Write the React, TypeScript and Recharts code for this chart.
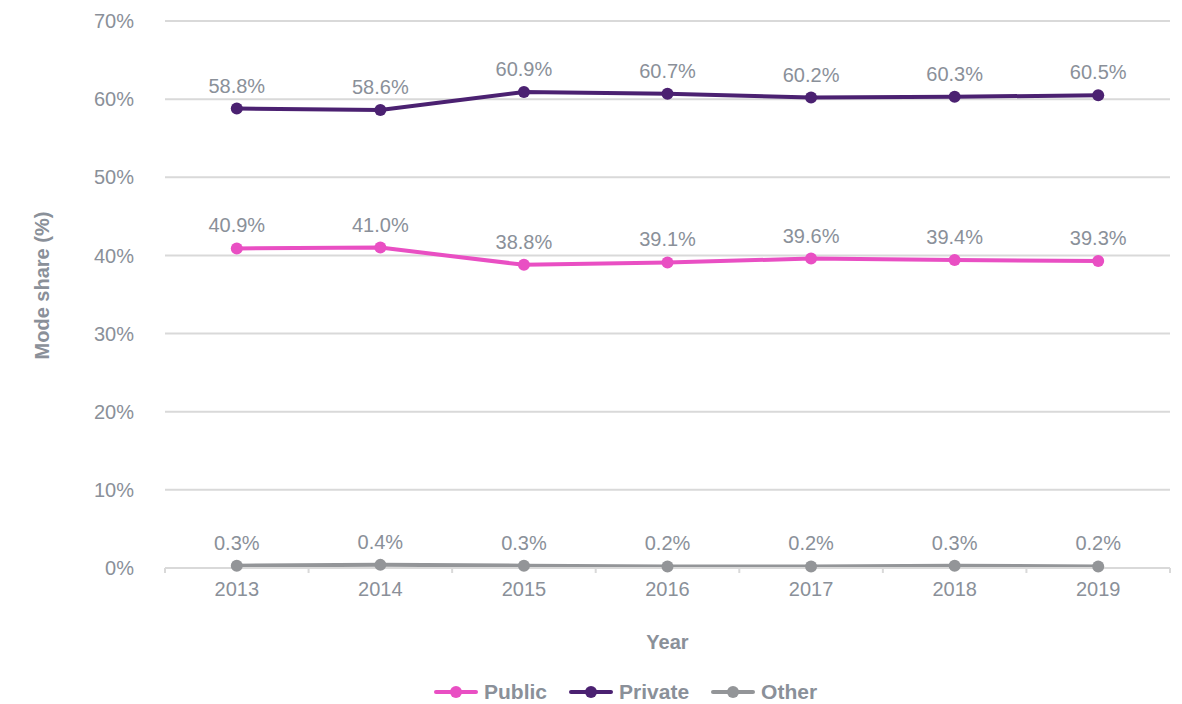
import { CartesianGrid, LabelList, Legend, Line, LineChart, XAxis, YAxis } from "recharts";

const years = ["2013", "2014", "2015", "2016", "2017", "2018", "2019"];
const publicShare = [40.9, 41.0, 38.8, 39.1, 39.6, 39.4, 39.3];
const privateShare = [58.8, 58.6, 60.9, 60.7, 60.2, 60.3, 60.5];
const otherShare = [0.3, 0.4, 0.3, 0.2, 0.2, 0.3, 0.2];
const yTicks = [0, 10, 20, 30, 40, 50, 60, 70];

const series = [
  { key: "public", name: "Public", color: "#e94fc3" },
  { key: "private", name: "Private", color: "#4b2171" },
  { key: "other", name: "Other", color: "#939598" }
];

const data = years.map((year, i) => ({
  year,
  public: publicShare[i],
  private: privateShare[i],
  other: otherShare[i]
}));

const TEXT = "#8a9099";
const FONT = "'Liberation Sans', Arial, sans-serif";

function YearTick(props: any) {
  const { x, y, payload, index } = props;
  const half = payload.offset || 0;
  const axisY = y - 14;
  return (
    <g>
      <line x1={x - half} x2={x - half} y1={axisY} y2={axisY + 5} stroke="#d9d9d9" strokeWidth={2} />
      {index === years.length - 1 && (
        <line x1={x + half} x2={x + half} y1={axisY} y2={axisY + 5} stroke="#d9d9d9" strokeWidth={2} />
      )}
      <text x={x} y={y} dy="0.71em" textAnchor="middle" fill={TEXT} fontSize={20} fontFamily={FONT}>
        {payload.value}
      </text>
    </g>
  );
}

function LegendContent() {
  return (
    <div style={{ display: "flex", alignItems: "center", gap: 22, fontFamily: FONT }}>
      {series.map((s) => (
        <div key={s.key} style={{ display: "flex", alignItems: "center", gap: 6 }}>
          <svg width={44} height={14}>
            <line x1={2} x2={42} y1={7} y2={7} stroke={s.color} strokeWidth={4} strokeLinecap="round" />
            <circle cx={22} cy={7} r={6} fill={s.color} />
          </svg>
          <span style={{ color: TEXT, fontSize: 21, fontWeight: 700 }}>{s.name}</span>
        </div>
      ))}
    </div>
  );
}

export default function App() {
  return (
    <div style={{ position: "absolute", left: 0, top: 0, width: 1182, height: 704, background: "#fff" }}>
      <LineChart width={1182} height={704} data={data} margin={{ top: 21, right: 12, bottom: 0, left: 0 }}>
        <CartesianGrid vertical={false} stroke="#d9d9d9" strokeWidth={2} />
        <XAxis
          dataKey="year"
          scale="band"
          height={112}
          axisLine={{ stroke: "#d9d9d9", strokeWidth: 2 }}
          tickLine={false}
          tickSize={6}
          tickMargin={8}
          tick={<YearTick />}
          label={{ value: "Year", position: "insideTop", dy: 62, fill: TEXT, fontSize: 20, fontWeight: 700, fontFamily: FONT }}
        />
        <YAxis
          width={165}
          domain={[0, 70]}
          ticks={yTicks}
          axisLine={false}
          tickLine={false}
          tickMargin={25}
          tick={{ fill: TEXT, fontSize: 20, fontFamily: FONT }}
          tickFormatter={(v) => `${v}%`}
          label={{
            value: "Mode share (%)",
            angle: -90,
            position: "insideLeft",
            dx: 37,
            dy: -9,
            fill: TEXT,
            fontSize: 20,
            fontWeight: 700,
            fontFamily: FONT,
            style: { textAnchor: "middle" }
          }}
        />
        <Legend
          verticalAlign="bottom"
          content={<LegendContent />}
          wrapperStyle={{ left: 434, width: "auto", bottom: 0 }}
        />
        {series.map((s) => (
          <Line
            key={s.key}
            dataKey={s.key}
            name={s.name}
            stroke={s.color}
            strokeWidth={4}
            dot={{ r: 6, fill: s.color, stroke: s.color, strokeWidth: 0 }}
            activeDot={false}
            isAnimationActive={false}
          >
            <LabelList
              dataKey={s.key}
              position="top"
              offset={16}
              formatter={(v: any) => `${Number(v).toFixed(1)}%`}
              fill={TEXT}
              fontSize={20}
              fontFamily={FONT}
            />
          </Line>
        ))}
      </LineChart>
    </div>
  );
}
